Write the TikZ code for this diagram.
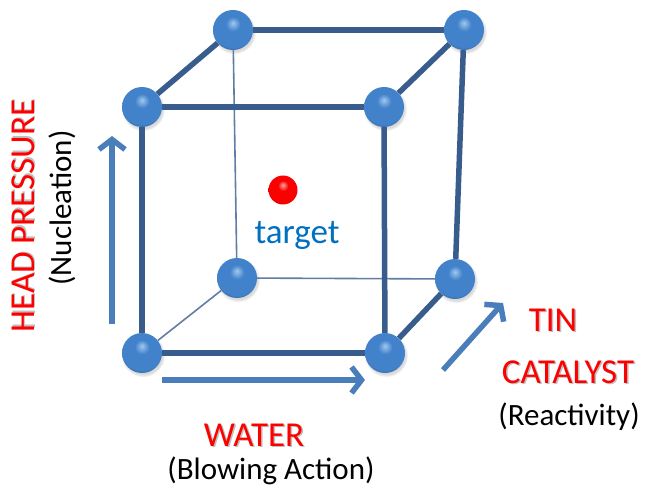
\documentclass[tikz,border=0pt]{standalone}
\usepackage{fontspec}
\setmainfont{Carlito}
\usetikzlibrary{arrows.meta,shadows}

\definecolor{edgeblue}{RGB}{56,92,140}
\definecolor{arrowblue}{RGB}{74,126,187}
\definecolor{ballhi}{RGB}{160,200,240}
\definecolor{ballblue}{RGB}{66,130,202}
\definecolor{balldark}{RGB}{35,75,125}
\definecolor{redhi}{RGB}{255,170,160}
\definecolor{redmid}{RGB}{250,0,0}
\definecolor{reddark}{RGB}{160,0,0}
\definecolor{targetblue}{RGB}{0,112,192}
\definecolor{labelred}{RGB}{255,0,0}

\pgfdeclareradialshading{bluesphere}{\pgfpoint{0bp}{9bp}}{color(0bp)=(ballhi);color(9bp)=(ballblue);color(26bp)=(ballblue);color(33bp)=(balldark);color(50bp)=(balldark)}
\pgfdeclareradialshading{redsphere}{\pgfpoint{0bp}{9bp}}{color(0bp)=(redhi);color(9bp)=(redmid);color(26bp)=(redmid);color(33bp)=(reddark);color(50bp)=(reddark)}

% text with a soft grey shadow behind it
\newcommand\shadowed[1]{\makebox[0pt][l]{\hspace{1.5pt}\raisebox{-1.5pt}{\color{black!25}#1}}#1}

\begin{document}
\begin{tikzpicture}[x=1pt,y=-1pt,
    corner/.style={circle,inner sep=0pt,minimum size=40pt,shading=bluesphere,
      circular drop shadow={shadow xshift=1pt,shadow yshift=-2pt,opacity=0.3}},
    aim/.style={circle,inner sep=0pt,minimum size=29pt,shading=redsphere},
    frontedge/.style={draw=edgeblue,line width=5.5pt},
    backedge/.style={draw=edgeblue!80,line width=1.6pt},
    axisarrow/.style={draw=arrowblue,line width=5.5pt,-{Straight Barb[length=10pt,width=26pt]}},
    factor/.style={font=\fontsize{35}{38}\selectfont,text=labelred},
    effect/.style={font=\fontsize{31}{34}\selectfont,text=black}
    ]

  \useasboundingbox (0,0) rectangle (645,489);

  % corners of the cube
  \node(ftl) [corner] at (142,107) {};
  \node(ftr) [corner] at (384,107) {};
  \node(fbl) [corner] at (142,353) {};
  \node(fbr) [corner] at (385,353) {};
  \node(btl) [corner] at (233,30) {};
  \node(btr) [corner] at (464,30) {};
  \node(bbl) [corner] at (237,278) {};
  \node(bbr) [corner] at (455,279) {};

  % hidden edges
  \draw[backedge] (btl) -- (bbl);
  \draw[backedge] (bbl) -- (bbr);
  \draw[backedge] (fbl) -- (bbl);

  % visible edges
  \draw[frontedge] (ftl) -- (ftr);
  \draw[frontedge] (ftr) -- (fbr);
  \draw[frontedge] (fbr) -- (fbl);
  \draw[frontedge] (fbl) -- (ftl);
  \draw[frontedge] (ftl) -- (btl);
  \draw[frontedge] (btl) -- (btr);
  \draw[frontedge] (btr) -- (ftr);
  \draw[frontedge] (btr) -- (bbr);
  \draw[frontedge] (bbr) -- (fbr);

  % target point
  \node(goal) [aim] at (283,190) {};
  \node(goalName) [font=\fontsize{35}{37}\selectfont,text=targetblue] at (297,235) {target};

  % axes
  \coordinate(pressureFrom) at (112,324);
  \coordinate(pressureTo) at (112,136);
  \coordinate(waterFrom) at (162,380);
  \coordinate(waterTo) at (365,380);
  \coordinate(tinFrom) at (443,370);
  \coordinate(tinTo) at (503,303);

  \draw[axisarrow] (pressureFrom) -- (pressureTo);
  \draw[axisarrow] (waterFrom) -- (waterTo);
  \draw[axisarrow] (tinFrom) -- (tinTo);

  % labels
  \node(pressureName) [factor,rotate=90] at (24,216) {\shadowed{HEAD PRESSURE}};
  \node(pressureNote) [effect,rotate=90] at (62,208) {(Nucleation)};
  \node(waterName) [factor] at (254,436) {\shadowed{WATER}};
  \node(waterNote) [effect] at (271,471) {(Blowing Action)};
  \node(tinName) [factor] at (553,321) {\shadowed{TIN}};
  \node(catalystName) [factor] at (568,373) {\shadowed{CATALYST}};
  \node(tinNote) [effect] at (569,417) {(Reactivity)};

\end{tikzpicture}
\end{document}
